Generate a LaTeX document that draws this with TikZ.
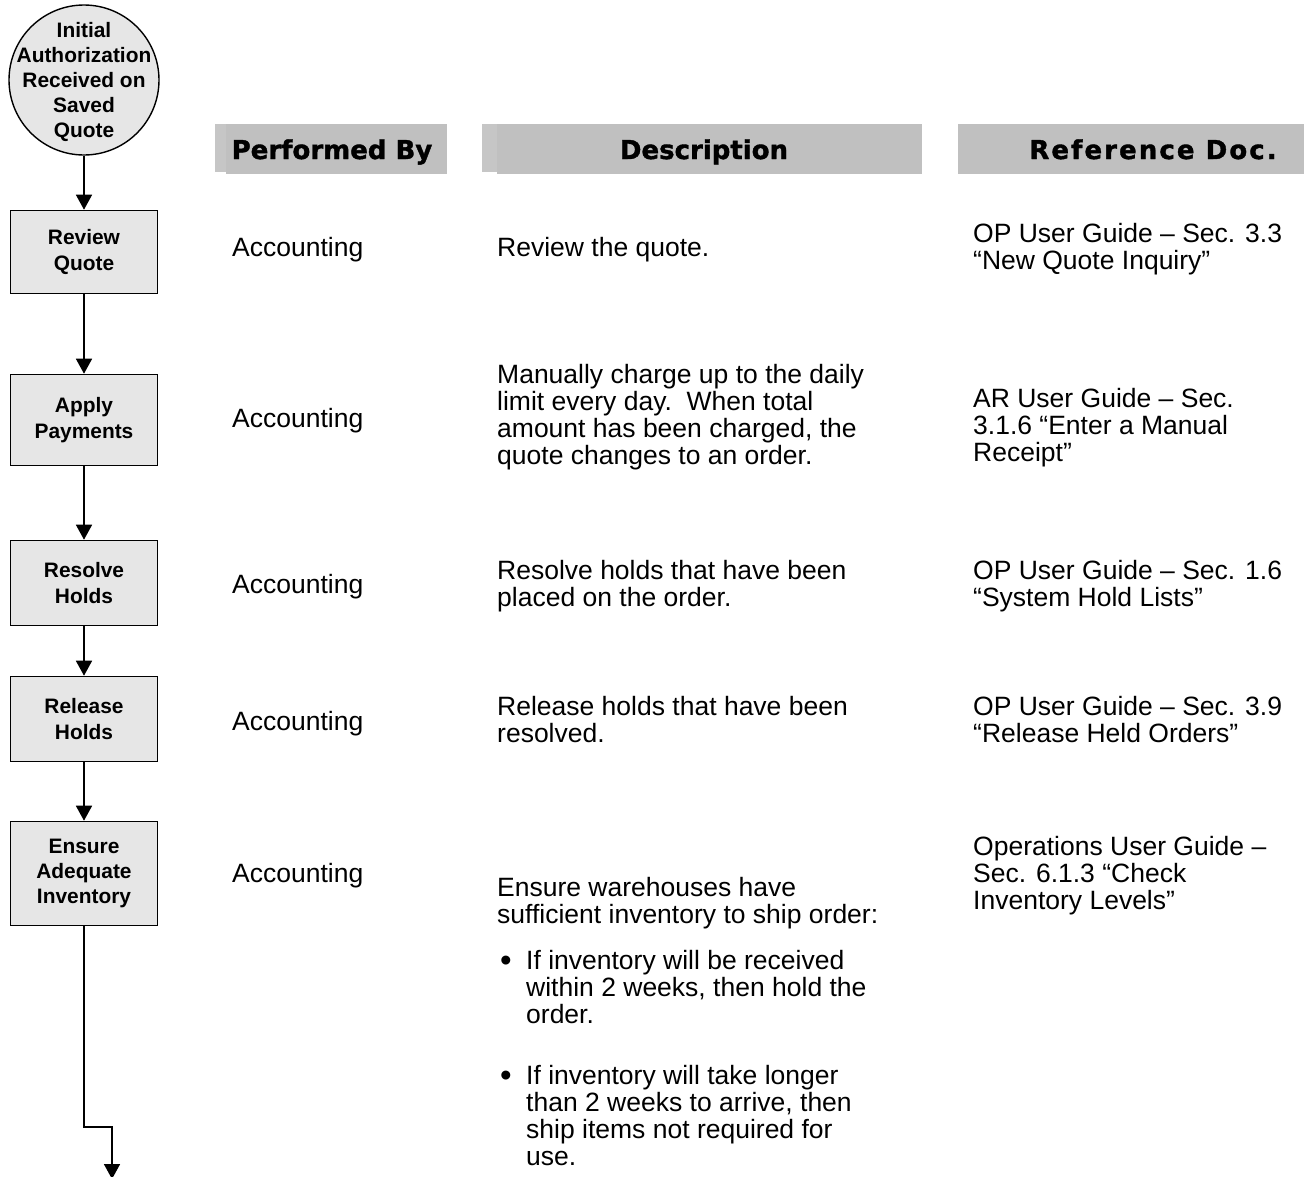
\documentclass[tikz,border=0pt]{standalone}
\usepackage{fontspec}
\setmainfont{Liberation Sans}
\newfontfamily\headfamily{DejaVu Sans}[BoldFeatures={FakeBold=1.4}]
\usetikzlibrary{arrows.meta}

\definecolor{boxgray}{RGB}{230,230,230}
\definecolor{bargray}{RGB}{192,192,192}
\definecolor{stripgray}{RGB}{198,198,198}

\newcommand\bodyfnt{\fontsize{26.5}{27}\selectfont}
\newcommand\bxfnt{\bfseries\fontsize{20.9}{25.2}\selectfont}
\newcommand\hdfnt{\headfamily\bfseries\fontsize{26}{30}\selectfont}
% bullet used in the description lists
\newcommand\listdot{\makebox[29pt][l]{\hspace{3pt}\raisebox{-2.5pt}{\fontsize{33}{27}\selectfont •}}}

\tikzset{
  stepbox/.style={draw, line width=1.6pt, fill=boxgray, minimum width=147pt,
    inner sep=0pt, align=center, font=\bxfnt},
  startnode/.style={draw, circle, line width=1.4pt, fill=boxgray,
    minimum size=150pt, inner sep=0pt},
  flow/.style={line width=1.6pt, -{Triangle[length=15pt,width=16pt]}},
  cell/.style={anchor=base west, inner sep=0pt, font=\bodyfnt},
  headtext/.style={anchor=base, inner sep=0pt, font=\hdfnt},
}

\begin{document}
\begin{tikzpicture}[x=1pt, y=-1pt]
\useasboundingbox (0,0) rectangle (1304,1176);

% column header bars
\fill[stripgray] (215,124) rectangle (226,172);
\fill[bargray] (226,124) rectangle (447,174);
\fill[stripgray] (482,124) rectangle (497,172);
\fill[bargray] (497,124) rectangle (922,174);
\fill[bargray] (958,124) rectangle (1304,174);
\node[headtext] (hperf) at (332,159) {Performed By};
\node[headtext] (hdesc) at (704,159) {Description};
\node[headtext] (href) at (1153,159) {\addfontfeature{LetterSpace=8}Reference Doc.};

% flowchart column
\node[startnode] (start) at (84,80) {};
\node[align=center, font=\bxfnt, inner sep=0pt] (starttext) at (84,82)
  {Initial\\Authorization\\Received on\\Saved\\Quote};
\node[stepbox, minimum height=83pt] (review) at (84,252) {Review\\Quote};
\node[stepbox, minimum height=91pt] (apply) at (84,420) {Apply\\Payments};
\node[stepbox, minimum height=85pt] (resolve) at (84,583) {Resolve\\Holds};
\node[stepbox, minimum height=85pt] (release) at (84,719) {Release\\Holds};
\node[stepbox, minimum height=104pt] (ensure) at (84,873.5) {Ensure\\Adequate\\Inventory};

\coordinate (bendA) at (84,1127);
\coordinate (bendB) at (112,1127);
\coordinate (exit) at (112,1179);

\draw[flow] (start) -- (review);
\draw[flow] (review) -- (apply);
\draw[flow] (apply) -- (resolve);
\draw[flow] (resolve) -- (release);
\draw[flow] (release) -- (ensure);
\draw[flow] (ensure.south) -- (bendA) -- (bendB) -- (exit);

% row 1
\node[cell] (perf1) at (232,256) {Accounting};
\node[cell] (desc1) at (497,256) {Review the quote.};
\node[cell] (ref1) at (973,242) {\parbox[t]{330pt}{\raggedright OP User Guide – Sec. 3.3\\“New Quote Inquiry”}};

% row 2
\node[cell] (perf2) at (232,427) {Accounting};
\node[cell] (desc2) at (497,383) {\parbox[t]{420pt}{\raggedright Manually charge up to the daily\\limit every day.\ \ When total\\amount has been charged, the\\quote changes to an order.}};
\node[cell] (ref2) at (973,407) {\parbox[t]{330pt}{\raggedright AR User Guide – Sec.\\3.1.6 “Enter a Manual\\Receipt”}};

% row 3
\node[cell] (perf3) at (232,593) {Accounting};
\node[cell] (desc3) at (497,579) {\parbox[t]{420pt}{\raggedright Resolve holds that have been\\placed on the order.}};
\node[cell] (ref3) at (973,579) {\parbox[t]{330pt}{\raggedright OP User Guide – Sec. 1.6\\“System Hold Lists”}};

% row 4
\node[cell] (perf4) at (232,730) {Accounting};
\node[cell] (desc4) at (497,715) {\parbox[t]{420pt}{\raggedright Release holds that have been\\resolved.}};
\node[cell] (ref4) at (973,715) {\parbox[t]{330pt}{\raggedright OP User Guide – Sec. 3.9\\“Release Held Orders”}};

% row 5
\node[cell] (perf5) at (232,882) {Accounting};
\node[cell] (desc5) at (497,896) {\parbox[t]{420pt}{\raggedright Ensure warehouses have\\sufficient inventory to ship order:}};
\node[cell] (item1) at (497,969) {\parbox[t]{420pt}{\hangindent=29pt\hangafter=1\noindent
  \listdot If inventory will be received\newline within 2 weeks, then hold the\newline order.}};
\node[cell] (item2) at (497,1084) {\parbox[t]{420pt}{\hangindent=29pt\hangafter=1\noindent
  \listdot If inventory will take longer\newline than 2 weeks to arrive, then\newline ship items not required for\newline use.}};
\node[cell] (ref5) at (973,855) {\parbox[t]{330pt}{\raggedright Operations User Guide –\\Sec. 6.1.3 “Check\\Inventory Levels”}};
\end{tikzpicture}
\end{document}
